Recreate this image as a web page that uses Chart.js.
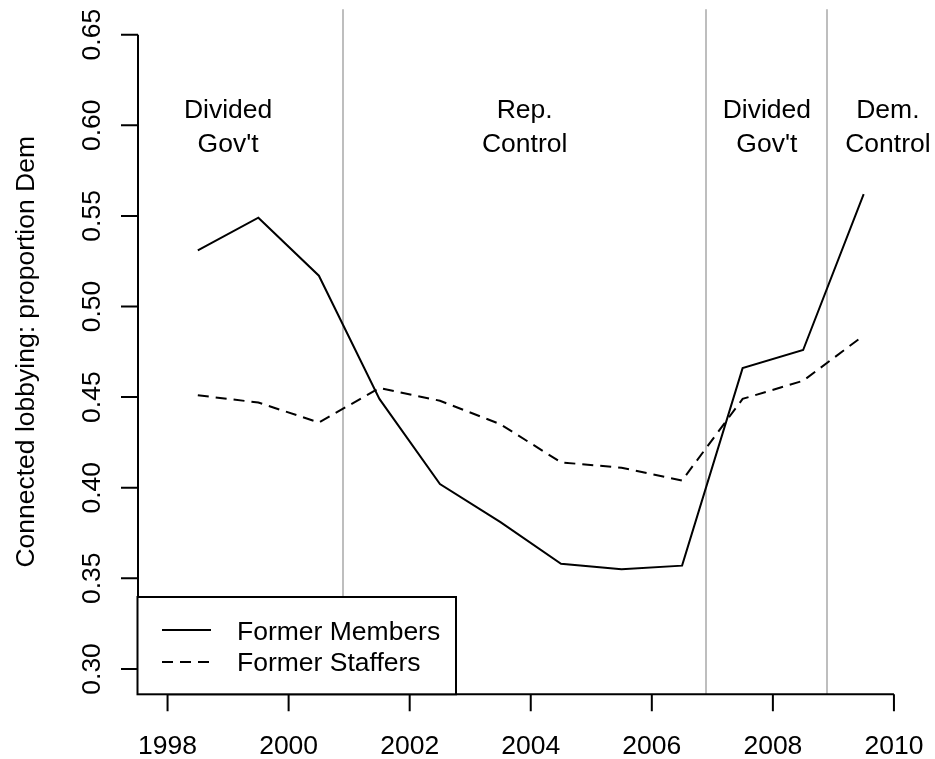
<!DOCTYPE html>
<html>
<head>
<meta charset="utf-8">
<script src="https://cdn.jsdelivr.net/npm/chart.js@4.4.1/dist/chart.umd.min.js"></script>
<style>
	body { margin: 0; background: #fff; }
	#wrap { width: 935px; height: 759px; }
</style>
</head>
<body>
<div id="wrap"><canvas id="chart" width="935" height="759"></canvas></div>
<script>
// values
const years = [1998.5, 1999.5, 2000.5, 2001.5, 2002.5, 2003.5, 2004.5, 2005.5, 2006.5, 2007.5, 2008.5, 2009.5];
const formerMembers = [0.531, 0.549, 0.517, 0.449, 0.402, 0.381, 0.358, 0.355, 0.357, 0.466, 0.476, 0.562];
const formerStaffers = [0.451, 0.447, 0.436, 0.455, 0.448, 0.435, 0.414, 0.411, 0.404, 0.449, 0.459, 0.484];

const xTicks = [1998, 2000, 2002, 2004, 2006, 2008, 2010];
const yTicks = [0.30, 0.35, 0.40, 0.45, 0.50, 0.55, 0.60, 0.65];

const periodBreaks = [2000.9, 2006.9, 2008.9];
const periodLabels = [["Divided", "Gov't"], ["Rep.", "Control"], ["Divided", "Gov't"], ["Dem.", "Control"]];
const periodLabelX = [1999, 2003.9, 2007.9, 2009.9];
const periodLabelY = 0.60;

const seriesNames = ['Former Members', 'Former Staffers'];
const yTitle = 'Connected lobbying: proportion Dem';

const FONT = '26.5px "Liberation Sans", Arial, Helvetica, sans-serif';
const DASH = [11, 7];

const rPlot = {
	id: 'rPlot',
	beforeDatasetsDraw(chart) {
		const { ctx, chartArea, scales: { x } } = chart;
		ctx.save();
		ctx.strokeStyle = '#bebebe';
		ctx.lineWidth = 2;
		periodBreaks.forEach(b => {
			const px = Math.round(x.getPixelForValue(b));
			ctx.beginPath();
			ctx.moveTo(px, chartArea.top);
			ctx.lineTo(px, chartArea.bottom);
			ctx.stroke();
		});
		ctx.restore();
	},
	afterDatasetsDraw(chart) {
		const { ctx, chartArea, scales: { x, y } } = chart;
		ctx.save();
		ctx.strokeStyle = '#000';
		ctx.fillStyle = '#000';
		ctx.lineWidth = 2;
		ctx.lineCap = 'butt';
		ctx.font = FONT;

		// x axis
		const axY = chartArea.bottom;
		ctx.beginPath();
		ctx.moveTo(x.getPixelForValue(xTicks[0]), axY);
		ctx.lineTo(x.getPixelForValue(xTicks[xTicks.length - 1]), axY);
		xTicks.forEach(t => {
			const px = x.getPixelForValue(t);
			ctx.moveTo(px, axY);
			ctx.lineTo(px, axY + 17);
		});
		ctx.stroke();
		ctx.textAlign = 'center';
		ctx.textBaseline = 'alphabetic';
		xTicks.forEach(t => {
			ctx.fillText(String(t), x.getPixelForValue(t), axY + 60);
		});

		// y axis
		const axX = chartArea.left - 0.5;
		ctx.beginPath();
		ctx.moveTo(axX, y.getPixelForValue(yTicks[0]));
		ctx.lineTo(axX, y.getPixelForValue(yTicks[yTicks.length - 1]));
		yTicks.forEach(t => {
			const py = y.getPixelForValue(t);
			ctx.moveTo(axX, py);
			ctx.lineTo(axX - 17, py);
		});
		ctx.stroke();
		yTicks.forEach(t => {
			ctx.save();
			ctx.translate(axX - 38, y.getPixelForValue(t));
			ctx.rotate(-Math.PI / 2);
			ctx.fillText(t.toFixed(2), 0, 0);
			ctx.restore();
		});

		// y title
		ctx.save();
		ctx.translate(33.5, (chartArea.top + chartArea.bottom) / 2);
		ctx.rotate(-Math.PI / 2);
		ctx.fillText(yTitle, 0, 0);
		ctx.restore();

		// period labels
		periodLabels.forEach((lines, i) => {
			const px = x.getPixelForValue(periodLabelX[i]);
			const py = y.getPixelForValue(periodLabelY);
			ctx.fillText(lines[0], px, py - 7);
			ctx.fillText(lines[1], px, py + 26.5);
		});

		// legend box
		const bx = chartArea.left - 1, by = 597, bw = 456 - bx, bh = chartArea.bottom - by;
		ctx.fillStyle = '#fff';
		ctx.fillRect(bx, by, bw, bh);
		ctx.strokeRect(bx, by, bw, bh);
		ctx.fillStyle = '#000';
		ctx.beginPath();
		ctx.moveTo(162, 630);
		ctx.lineTo(211, 630);
		ctx.stroke();
		ctx.setLineDash(DASH);
		ctx.beginPath();
		ctx.moveTo(162, 662);
		ctx.lineTo(211, 662);
		ctx.stroke();
		ctx.setLineDash([]);
		ctx.textAlign = 'left';
		ctx.fillText(seriesNames[0], 237, 639.5);
		ctx.fillText(seriesNames[1], 237, 671);
		ctx.restore();
	}
};

new Chart(document.getElementById('chart'), {
	type: 'line',
	data: {
		datasets: [
			{
				label: seriesNames[0],
				data: years.map((yr, i) => ({ x: yr, y: formerMembers[i] })),
				borderColor: '#000',
				borderWidth: 2,
				pointRadius: 0,
				tension: 0
			},
			{
				label: seriesNames[1],
				data: years.map((yr, i) => ({ x: yr, y: formerStaffers[i] })),
				borderColor: '#000',
				borderWidth: 2,
				borderDash: DASH,
				pointRadius: 0,
				tension: 0
			}
		]
	},
	options: {
		responsive: false,
		animation: false,
		layout: { padding: { left: 138.5, right: 12, top: 9.3, bottom: 64.7 } },
		scales: {
			x: { type: 'linear', min: 1997.52, max: 2010.48, display: false },
			y: { type: 'linear', min: 0.286, max: 0.664, display: false }
		},
		plugins: {
			legend: { display: false },
			tooltip: { enabled: false }
		}
	},
	plugins: [rPlot]
});
</script>
</body>
</html>
